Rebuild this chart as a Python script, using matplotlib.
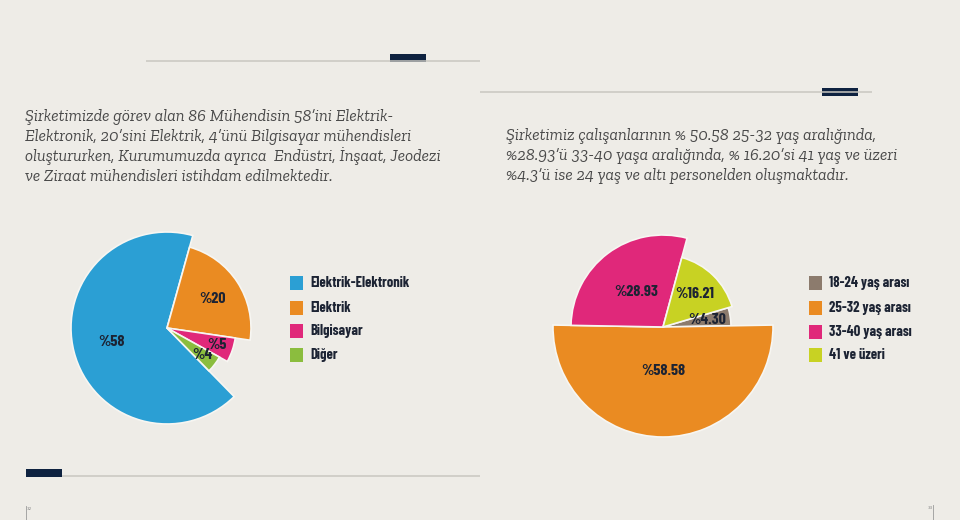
import numpy as np
import matplotlib
matplotlib.use("Agg")
import matplotlib.pyplot as plt
from matplotlib.patches import Rectangle

W, H = 960, 520
BG = "#eeece7"
NAVY = "#0e2240"
INK = "#1c2333"
TEXT = "#4a4a4a"
LABEL_FONT = ["Barlow Condensed", "Roboto", "DejaVu Sans"]
BODY_FONT = ["Zilla Slab", "Crete Round", "DejaVu Serif"]

# left chart: engineers by discipline
eng_names = ["Elektrik-Elektronik", "Elektrik", "Bilgisayar", "Diğer"]
eng_values = [58, 20, 5, 4]
eng_colors = ["#2b9fd4", "#ea8b22", "#e0287a", "#8bbd3e"]

# right chart: staff by age band
age_names = ["18-24 yaş arası", "25-32 yaş arası", "33-40 yaş arası", "41 ve üzeri"]
age_values = [4.30, 50.58, 28.93, 16.21]
age_labels = ["%4.30", "%58.58", "%28.93", "%16.21"]  # as printed on the chart
age_colors = ["#8c7b6d", "#ea8b22", "#e0287a", "#c8d223"]

left_text = [
    "Şirketimizde görev alan 86 Mühendisin 58’ini Elektrik-",
    "Elektronik, 20’sini Elektrik, 4’ünü Bilgisayar mühendisleri",
    "oluştururken, Kurumumuzda ayrıca  Endüstri, İnşaat, Jeodezi",
    "ve Ziraat mühendisleri istihdam edilmektedir.",
]
right_text = [
    "Şirketimiz çalışanlarının % 50.58 25-32 yaş aralığında,",
    "%28.93’ü 33-40 yaşa aralığında, % 16.20’si 41 yaş ve üzeri",
    "%4.3’ü ise 24 yaş ve altı personelden oluşmaktadır.",
]

fig = plt.figure(figsize=(W / 100, H / 100), dpi=100, facecolor=BG)
bg = fig.add_axes([0, 0, 1, 1])
bg.set_xlim(0, W)
bg.set_ylim(H, 0)
bg.axis("off")

# decorative rules with small navy blocks
for x0, x1, y, bx, by in [(146, 480, 60.5, 390, 54), (480, 872, 92, 822, 88), (62, 480, 476, 26, 469)]:
    bg.plot([x0, x1], [y, y], color="#c9c7c1", lw=1.1, solid_capstyle="butt")
    bg.add_patch(Rectangle((bx, by), 36, 7.5, color=NAVY, lw=0))

# page markers
bg.plot([25.5, 25.5], [506, 520], color="#9a9a9a", lw=0.6)
bg.plot([932.5, 932.5], [505, 520], color="#9a9a9a", lw=0.6)
bg.text(27, 507, "32", fontsize=3, color="#888888", va="top")
bg.text(928, 506, "33", fontsize=3, color="#888888", va="top")

# paragraphs: size the body font so the longest line spans ~415 px like the page
renderer = fig.canvas.get_renderer()
probe = bg.text(0, 0, left_text[2], family=BODY_FONT, style="italic", fontsize=10)
body_size = 10 * 415 / probe.get_window_extent(renderer).width
probe.remove()

for i, line in enumerate(left_text):
    bg.text(25, 121 + 20 * i, line, family=BODY_FONT, style="italic",
            fontsize=body_size, color=TEXT, va="baseline")
for i, line in enumerate(right_text):
    bg.text(506, 140 + 20 * i, line, family=BODY_FONT, style="italic",
            fontsize=body_size, color=TEXT, va="baseline")


def draw_pie(cx, cy, size, values, colors, texts, radii, fracs, start):
    ax = fig.add_axes([(cx - size / 2) / W, 1 - (cy + size / 2) / H, size / W, size / H])
    wedges, _ = ax.pie(values, colors=colors, startangle=start, counterclock=False,
                       wedgeprops=dict(edgecolor="#f7f6f2", linewidth=1.2))
    for w, r, t, f in zip(wedges, radii, texts, fracs):
        w.set_radius(r)
        mid = np.deg2rad((w.theta1 + w.theta2) / 2)
        ax.text(f * r * np.cos(mid), f * r * np.sin(mid), t, family=LABEL_FONT,
                weight="bold", fontsize=11.5, color=INK, ha="center", va="center")
    ax.set_xlim(-size / 2, size / 2)
    ax.set_ylim(-size / 2, size / 2)
    ax.axis("off")


draw_pie(167, 328, 240, eng_values, eng_colors, [f"%{v}" for v in eng_values],
         [96, 84, 69, 60], [0.6, 0.64, 0.76, 0.74], 314.4)
draw_pie(663, 327, 240, age_values, age_colors, age_labels,
         [68, 110, 92, 72], [0.66, 0.4, 0.48, 0.64], 16.5)

# legends
for x_sq, names, colors, rows in [(290, eng_names, eng_colors, [283, 307.5, 331, 355]),
                                   (809, age_names, age_colors, [283, 308, 332, 355])]:
    for name, c, y in zip(names, colors, rows):
        bg.add_patch(Rectangle((x_sq, y - 7), 13, 14, color=c, lw=0))
        bg.text(x_sq + 20, y, name, family=LABEL_FONT, weight="bold",
                fontsize=10.5, color=INK, va="center")

fig.savefig("out.png", dpi=100, facecolor=BG)
